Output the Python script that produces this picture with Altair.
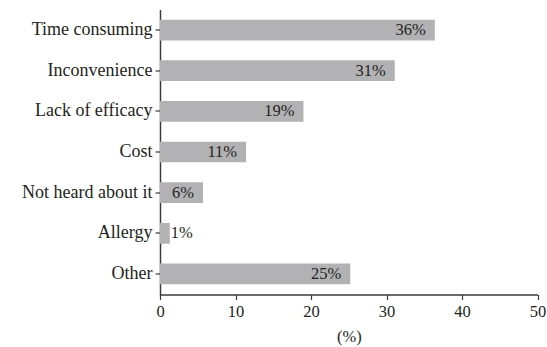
import altair as alt
import pandas as pd

categories = ["Time consuming", "Inconvenience", "Lack of efficacy", "Cost",
              "Not heard about it", "Allergy", "Other"]
values = [36.4, 31.1, 19.0, 11.4, 5.7, 1.3, 25.2]
labels = ["36%", "31%", "19%", "11%", "6%", "1%", "25%"]
x_ticks = [0, 10, 20, 30, 40, 50]

df = pd.DataFrame({"reason": categories, "value": values, "label": labels})

FONT = "Liberation Serif"
TXT = "#231f20"
AX = "#3a3a3a"

yenc = alt.Y(
    "reason:N",
    sort=categories,
    scale=alt.Scale(paddingInner=0.49, paddingOuter=0.25),
    axis=alt.Axis(title=None, tickSize=5, labelPadding=3, labelFontSize=18),
)

base = alt.Chart(df).encode(y=yenc)

bars = base.mark_bar(color="#b2b2b4").encode(
    x=alt.X(
        "value:Q",
        scale=alt.Scale(domain=[0, 50], nice=False),
        axis=alt.Axis(values=x_ticks, title="(%)", tickSize=5, labelPadding=4,
                      labelFontSize=16.5, labelFlush=False,
                      titleY=41.5, titleBaseline="middle"),
    )
)

inside = base.transform_filter("datum.value >= 3").mark_text(
    align="right", baseline="middle", dx=-9, font=FONT, fontSize=16.5, color=TXT
).encode(x="value:Q", text="label:N")

outside = base.transform_filter("datum.value < 3").mark_text(
    align="left", baseline="middle", dx=1, font=FONT, fontSize=16.5, color=TXT
).encode(x="value:Q", text="label:N")

chart = (
    alt.layer(bars, inside, outside)
    .properties(
        width=377.5,
        height=285,
        autosize=alt.AutoSizeParams(type="none"),
        padding={"left": 160, "top": 9.5, "right": 9.5, "bottom": 52.5},
        background="white",
    )
    .configure_view(stroke=None)
    .configure_axis(
        grid=False,
        domainColor=AX,
        domainWidth=1.5,
        tickColor=AX,
        tickWidth=1.2,
        labelFont=FONT,
        labelColor=TXT,
        titleFont=FONT,
        titleColor=TXT,
        titleFontSize=16.5,
        titleFontWeight="normal",
    )
)

chart.save("out.html", embed_options={"renderer": "svg", "actions": False})
